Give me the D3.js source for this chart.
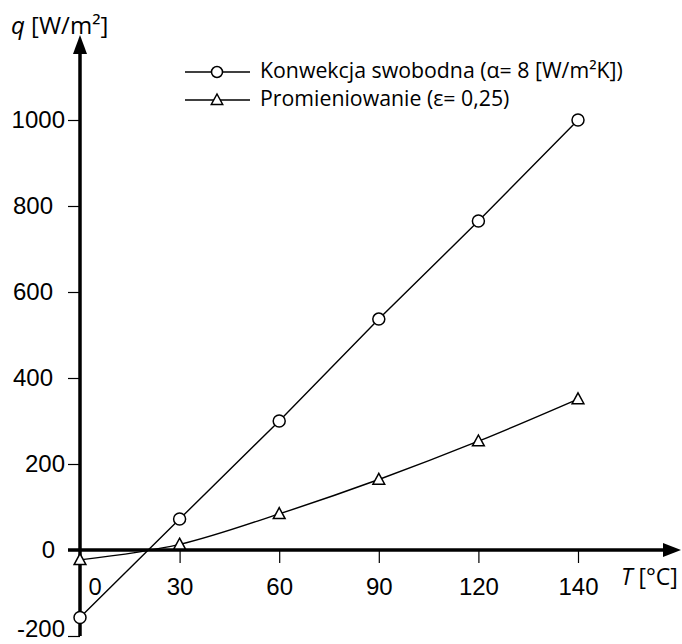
<!DOCTYPE html>
<html>
<head>
<meta charset="utf-8">
<script src="https://cdn.jsdelivr.net/npm/d3@7"></script>
<style>
  html, body { margin: 0; padding: 0; background: #fff; }
  svg { display: block; font-family: "Open Sans", sans-serif; }
</style>
</head>
<body>
<svg id="chart" width="682" height="644"></svg>
<script>
// ---- data ----
const temperatures = ["0", "30", "60", "90", "120", "140"];
const convection = [-157, 72, 300, 537, 765, 1000];
const radiation = [-23, 13, 84, 164, 253, 351];
const yTicks = [-200, 0, 200, 400, 600, 800, 1000];
const seriesNames = ["Konwekcja swobodna (α= 8 [W/m²K])", "Promieniowanie (ε= 0,25)"];

// ---- layout ----
const svg = d3.select("#chart");
const x = d3.scalePoint().domain(temperatures).range([80, 578]).padding(0);
const y = d3.scaleLinear().domain([-200, 1000]).range([636, 120]);
const axisX = x("0");
const axisY = y(0);

// y ticks and labels
const yAxis = d3.axisLeft(y).tickValues(yTicks).tickSize(12).tickPadding(3).tickFormat(d => String(d));
const gy = svg.append("g").attr("transform", `translate(${axisX},0)`).call(yAxis);
gy.select(".domain").remove();
gy.selectAll(".tick line").attr("stroke", "#000").attr("stroke-width", 1.2);
const labelShift = {800: -12, 600: -12, 400: -12, 0: -10};
gy.selectAll(".tick text")
  .attr("fill", "#000")
  .style("font-size", "24px")
  .attr("dx", d => labelShift[d] || 0)
  .attr("y", d => d === -200 ? -7 : 0);

// x ticks and labels
const xAxis = d3.axisBottom(x).tickValues(temperatures.filter(t => t !== "0")).tickSize(13).tickPadding(15);
const gx = svg.append("g").attr("transform", `translate(0,${axisY})`).call(xAxis);
gx.select(".domain").remove();
gx.selectAll(".tick line").attr("stroke", "#000").attr("stroke-width", 1.2);
gx.selectAll(".tick text").attr("fill", "#000").style("font-size", "24px");
// label for 0, offset right of the y axis
svg.append("text")
  .attr("x", axisX + 15).attr("y", axisY + 28).attr("dy", "0.71em")
  .attr("text-anchor", "middle")
  .style("font-size", "24px").text("0");

// main axes (thick) with arrows
svg.append("line")
  .attr("x1", axisX).attr("x2", axisX)
  .attr("y1", y(-200)).attr("y2", 50)
  .attr("stroke", "#000").attr("stroke-width", 3.5);
svg.append("path")
  .attr("d", `M${axisX},35 L${axisX - 7},54 L${axisX + 7},54 Z`)
  .attr("fill", "#000");
svg.append("line")
  .attr("x1", 68).attr("x2", 668)
  .attr("y1", axisY).attr("y2", axisY)
  .attr("stroke", "#000").attr("stroke-width", 3.5);
svg.append("path")
  .attr("d", `M681,${axisY} L663,${axisY - 7} L663,${axisY + 7} Z`)
  .attr("fill", "#000");

// axis titles
const yTitle = svg.append("text").attr("x", 11).attr("y", 34).style("font-size", "24px");
yTitle.append("tspan").style("font-style", "italic").text("q");
yTitle.append("tspan").text(" [W/m²]");
const xTitle = svg.append("text").attr("x", 621).attr("y", 585).style("font-size", "23px");
xTitle.append("tspan").style("font-style", "italic").text("T");
xTitle.append("tspan").text(" [°C]");

// series lines
const convLine = d3.line()
  .x((d, i) => x(temperatures[i]))
  .y(d => y(d));
const radLine = d3.line()
  .x((d, i) => x(temperatures[i]))
  .y(d => y(d))
  .curve(d3.curveMonotoneX);

svg.append("path").attr("d", convLine(convection))
  .attr("fill", "none").attr("stroke", "#000").attr("stroke-width", 1.4);
svg.append("path").attr("d", radLine(radiation))
  .attr("fill", "none").attr("stroke", "#000").attr("stroke-width", 1.4);

const triPath = (cx, cy, s) => `M${cx},${cy - s} L${cx + s * 0.95},${cy + s * 0.75} L${cx - s * 0.95},${cy + s * 0.75} Z`;

svg.append("g").selectAll("circle").data(convection).join("circle")
  .attr("cx", (d, i) => x(temperatures[i]))
  .attr("cy", d => y(d))
  .attr("r", 6)
  .attr("fill", "#fff").attr("stroke", "#000").attr("stroke-width", 1.5);

svg.append("g").selectAll("path").data(radiation).join("path")
  .attr("d", (d, i) => triPath(x(temperatures[i]), y(d), 6.2))
  .attr("fill", "#fff").attr("stroke", "#000").attr("stroke-width", 1.5);

// legend
const legend = svg.append("g");
const legY = [72, 100];
legY.forEach((ly, i) => {
  legend.append("line").attr("x1", 185).attr("x2", 250).attr("y1", ly).attr("y2", ly)
    .attr("stroke", "#000").attr("stroke-width", 1.4);
  if (i === 0) {
    legend.append("circle").attr("cx", 217).attr("cy", ly).attr("r", 5.5)
      .attr("fill", "#fff").attr("stroke", "#000").attr("stroke-width", 1.5);
  } else {
    legend.append("path").attr("d", triPath(217, ly, 6))
      .attr("fill", "#fff").attr("stroke", "#000").attr("stroke-width", 1.5);
  }
  legend.append("text").attr("x", 260).attr("y", ly).attr("dominant-baseline", "middle")
    .style("font-size", "21.3px").text(seriesNames[i]);
});
</script>
</body>
</html>
